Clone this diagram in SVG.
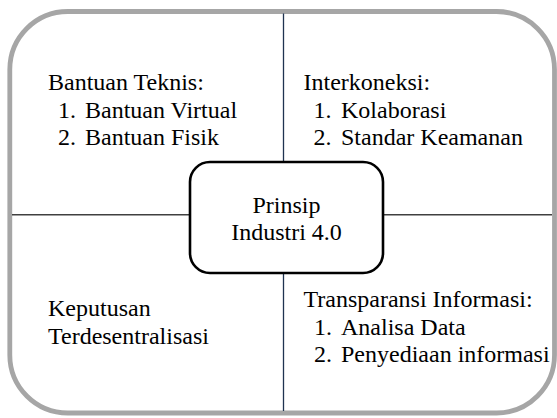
<svg xmlns="http://www.w3.org/2000/svg" width="557" height="418" viewBox="0 0 557 418">
<style>
.t{font-family:"Liberation Serif","Times New Roman",serif;font-size:24px;fill:#000}
.c{text-anchor:middle}
</style>
<rect x="0" y="0" width="557" height="418" fill="#fff"/>
<g id="frame">
<rect x="9.8" y="11.5" width="544.7" height="401.5" rx="58" ry="58" fill="#fff" stroke="#a6a6a6" stroke-width="4.8"/>
</g>
<g id="connectors">
<line x1="283.5" y1="13.5" x2="283.5" y2="411" stroke="#1f3350" stroke-width="1.3"/>
<line x1="12" y1="214.7" x2="552" y2="214.7" stroke="#404040" stroke-width="1.5"/>
</g>
<g id="center">
<rect x="190" y="162" width="193" height="111" rx="20" ry="20" fill="#fff" stroke="#000" stroke-width="2.6"/>
<text class="t c" x="286.5" y="212.7">Prinsip</text>
<text class="t c" x="286.5" y="240">Industri 4.0</text>
</g>
<g id="bantuan-teknis">
<text class="t" x="48" y="90">Bantuan Teknis:</text>
<text class="t" x="58" y="117.5">1.</text>
<text class="t" x="85" y="117.5">Bantuan Virtual</text>
<text class="t" x="58" y="145">2.</text>
<text class="t" x="85" y="145">Bantuan Fisik</text>
</g>
<g id="interkoneksi">
<text class="t" x="303.5" y="90">Interkoneksi:</text>
<text class="t" x="313.5" y="117.5">1.</text>
<text class="t" x="341" y="117.5">Kolaborasi</text>
<text class="t" x="313.5" y="145">2.</text>
<text class="t" x="341" y="145">Standar Keamanan</text>
</g>
<g id="keputusan">
<text class="t" x="48" y="316.3">Keputusan</text>
<text class="t" x="48" y="344">Terdesentralisasi</text>
</g>
<g id="transparansi">
<text class="t" x="303.5" y="306.7">Transparansi Informasi:</text>
<text class="t" x="314" y="334.5">1.</text>
<text class="t" x="341" y="334.5">Analisa Data</text>
<text class="t" x="314" y="362">2.</text>
<text class="t" x="341" y="362">Penyediaan informasi</text>
</g>
</svg>
